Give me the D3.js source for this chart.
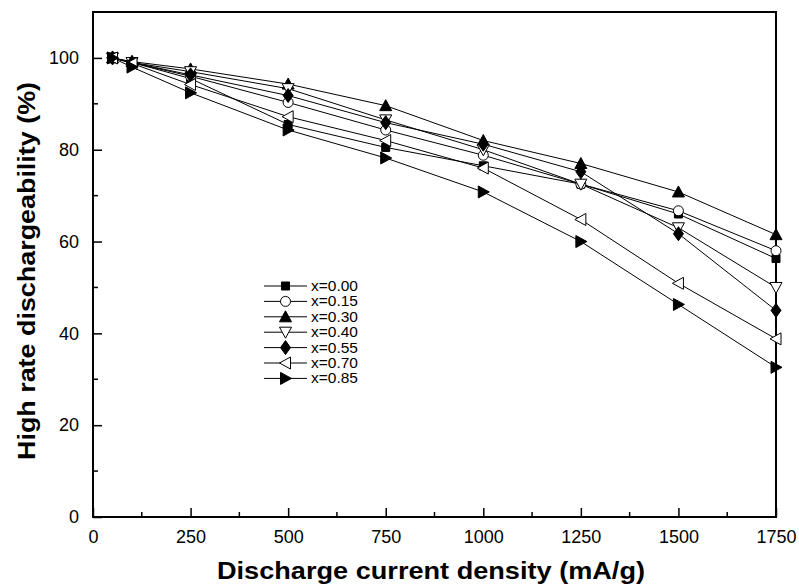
<!DOCTYPE html>
<html lang="en">
<head>
<meta charset="UTF-8">
<title>High rate dischargeability</title>
<script src="https://d3js.org/d3.v7.min.js"></script>
<style>
  * { margin: 0; padding: 0; }
  body { background: #fff; font-family: Arial, 'Liberation Sans', Helvetica, sans-serif; }
  svg { display: block; }
</style>
</head>
<body>
<svg id="chart" width="799" height="586"></svg>
<script>
// current density (mA/g)
var currents = [50, 100, 250, 500, 750, 1000, 1250, 1500, 1750];
var xTicks = [0, 250, 500, 750, 1000, 1250, 1500, 1750];
var yTicks = [0, 20, 40, 60, 80, 100];

var seriesNames = ['x=0.00', 'x=0.15', 'x=0.30', 'x=0.40', 'x=0.55', 'x=0.70', 'x=0.85'];
var seriesShapes = ['square', 'circle', 'triUp', 'triDown', 'diamond', 'triLeft', 'triRight'];
var seriesFilled = [true, false, true, false, true, false, true];

var hrd000 = [100, 99.0, 95.5, 85.5, 80.5, 76.5, 72.5, 66.0, 56.3];
var hrd015 = [100, 99.0, 96.0, 90.3, 84.3, 78.8, 72.5, 66.7, 58.0];
var hrd030 = [100, 99.2, 97.6, 94.3, 89.6, 82.0, 77.0, 70.8, 61.5];
var hrd040 = [100, 99.0, 97.0, 93.3, 86.5, 80.0, 72.5, 63.0, 50.0];
var hrd055 = [100, 99.0, 96.3, 91.8, 85.9, 81.2, 75.2, 61.7, 45.0];
var hrd070 = [100, 98.8, 94.2, 87.2, 82.0, 76.0, 64.8, 50.9, 38.8];
var hrd085 = [100, 98.0, 92.4, 84.3, 78.2, 70.8, 60.0, 46.3, 32.6];
var seriesValues = [hrd000, hrd015, hrd030, hrd040, hrd055, hrd070, hrd085];

var plotLeft = 93, plotRight = 776, plotTop = 12, plotBottom = 517;

var svg = d3.select('#chart');

var x = d3.scaleLinear().domain([0, 1750]).range([plotLeft, plotRight]);
var y = d3.scaleLinear().domain([0, 110]).range([plotBottom, plotTop]);

// marker path generator, centred on 0,0
function markerPath(shape, s) {
  var h = s / 2;
  switch (shape) {
    case 'square': return 'M' + -h + ',' + -h + 'h' + s + 'v' + s + 'h' + -s + 'Z';
    case 'triUp': return 'M0,' + (-h - 1) + 'L' + (h + 1) + ',' + h + 'L' + (-h - 1) + ',' + h + 'Z';
    case 'triDown': return 'M0,' + (h + 1) + 'L' + (h + 1) + ',' + (-h) + 'L' + (-h - 1) + ',' + (-h) + 'Z';
    case 'triLeft': return 'M' + (-h - 1) + ',0L' + h + ',' + (-h - 1) + 'L' + h + ',' + (h + 1) + 'Z';
    case 'triRight': return 'M' + (h + 1) + ',0L' + (-h) + ',' + (-h - 1) + 'L' + (-h) + ',' + (h + 1) + 'Z';
    case 'diamond': return 'M0,' + (-h - 2) + 'L' + h + ',0L0,' + (h + 2) + 'L' + (-h) + ',0Z';
  }
  return null;
}

function drawMarker(g, i, cx, cy) {
  var shape = seriesShapes[i];
  var fill = seriesFilled[i] ? '#000' : '#fff';
  if (shape === 'circle') {
    g.append('circle').attr('cx', cx).attr('cy', cy).attr('r', 5)
      .attr('fill', fill).attr('stroke', '#000').attr('stroke-width', 1);
  } else {
    var size = shape === 'square' ? 8 : 10;
    g.append('path').attr('d', markerPath(shape, size))
      .attr('transform', 'translate(' + cx + ',' + cy + ')')
      .attr('fill', fill).attr('stroke', '#000').attr('stroke-width', 1);
  }
}

// axes (ticks pointing inward)
var xAxis = d3.axisBottom(x).tickValues(xTicks).tickFormat(d3.format('d'))
  .tickSizeInner(-9).tickSizeOuter(0).tickPadding(13);
var yAxis = d3.axisLeft(y).tickValues(yTicks).tickFormat(d3.format('d'))
  .tickSizeInner(-9).tickSizeOuter(0).tickPadding(14);

var gx = svg.append('g').attr('transform', 'translate(0,' + plotBottom + ')').call(xAxis);
var gy = svg.append('g').attr('transform', 'translate(' + plotLeft + ',0)').call(yAxis);

[gx, gy].forEach(function(g) {
  g.select('.domain').remove();
  g.selectAll('.tick line').attr('stroke', '#000').attr('stroke-width', 1.5);
  g.selectAll('.tick text').attr('font-family', 'Arial, Liberation Sans, sans-serif')
    .attr('font-size', 18).attr('fill', '#000');
});

// minor ticks
var xMinor = d3.range(125, 1750, 250);
var yMinor = d3.range(10, 110, 20);
svg.append('g').selectAll('line').data(xMinor).join('line')
  .attr('x1', function(d) { return x(d); }).attr('x2', function(d) { return x(d); })
  .attr('y1', plotBottom).attr('y2', plotBottom - 5)
  .attr('stroke', '#000').attr('stroke-width', 1.5);
svg.append('g').selectAll('line').data(yMinor).join('line')
  .attr('y1', function(d) { return y(d); }).attr('y2', function(d) { return y(d); })
  .attr('x1', plotLeft).attr('x2', plotLeft + 5)
  .attr('stroke', '#000').attr('stroke-width', 1.5);

// frame
svg.append('rect')
  .attr('x', plotLeft).attr('y', plotTop)
  .attr('width', plotRight - plotLeft).attr('height', plotBottom - plotTop)
  .attr('fill', 'none').attr('stroke', '#000').attr('stroke-width', 2);

// series lines
var line = d3.line()
  .x(function(d, j) { return x(currents[j]); })
  .y(function(d) { return y(d); });

var plot = svg.append('g');
seriesValues.forEach(function(vals) {
  plot.append('path').datum(vals).attr('d', line)
    .attr('fill', 'none').attr('stroke', '#000').attr('stroke-width', 1);
});
seriesValues.forEach(function(vals, i) {
  vals.forEach(function(v, j) {
    drawMarker(plot, i, x(currents[j]), y(v));
  });
});

// legend
var legend = svg.append('g');
var legX0 = 264, legX1 = 307, legY0 = 286, legDy = 15.4;
seriesNames.forEach(function(name, i) {
  var ly = legY0 + i * legDy;
  legend.append('line').attr('x1', legX0).attr('x2', legX1).attr('y1', ly).attr('y2', ly)
    .attr('stroke', '#000').attr('stroke-width', 1);
  drawMarker(legend, i, (legX0 + legX1) / 2, ly);
  legend.append('text').attr('x', legX1 + 4).attr('y', ly + 5)
    .attr('font-size', 15.5).attr('fill', '#000').text(name);
});

// axis titles (scanned type is a bit wider than Arial, so stretch to length)
svg.append('text')
  .attr('x', 431).attr('y', 579)
  .attr('text-anchor', 'middle').attr('font-size', 23).attr('font-weight', 'bold')
  .attr('textLength', 428).attr('lengthAdjust', 'spacingAndGlyphs')
  .text('Discharge current density (mA/g)');

svg.append('text')
  .attr('transform', 'translate(35,271) rotate(-90)')
  .attr('text-anchor', 'middle').attr('font-size', 23).attr('font-weight', 'bold')
  .attr('textLength', 378).attr('lengthAdjust', 'spacingAndGlyphs')
  .text('High rate dischargeability (%)');
</script>
</body>
</html>
